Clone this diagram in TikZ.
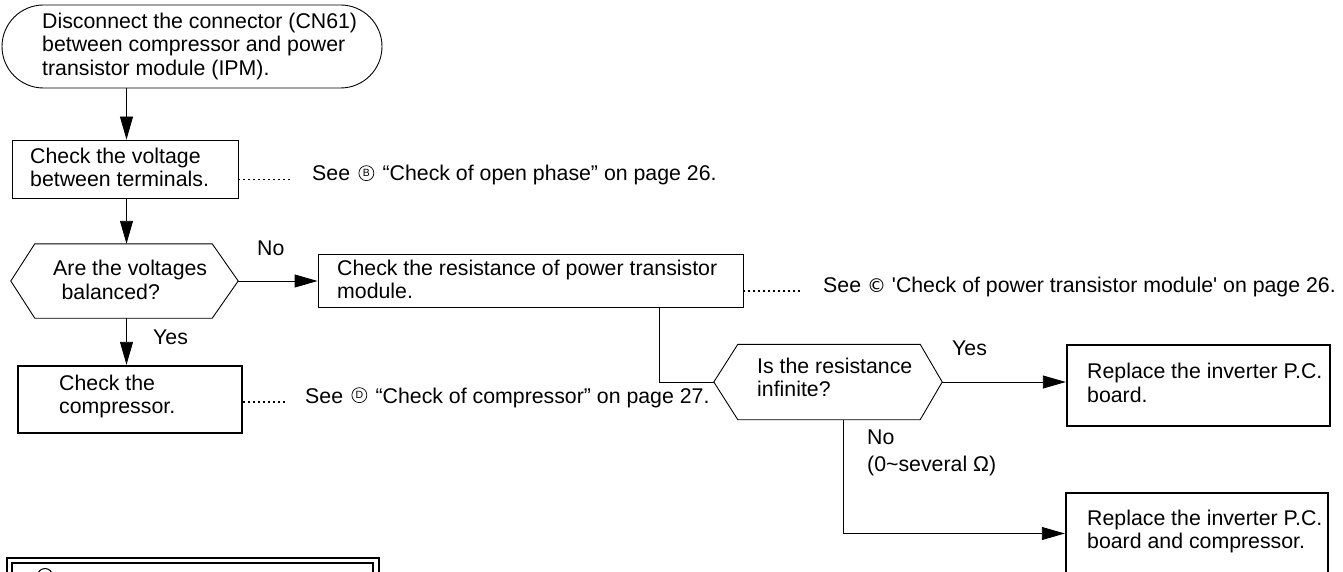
\documentclass[tikz,border=0pt]{standalone}
\usepackage{fontspec}
\usetikzlibrary{arrows.meta,calc,shapes.misc}
\newfontfamily\lsans{Liberation Sans}
\newfontfamily\dejavu{DejaVu Sans}
\newcommand{\circledletter}[1]{\hspace{2.5pt}\tikz[baseline=(cc.south)]\node[circle,draw,line width=0.7pt,inner sep=0pt,minimum size=15pt,font=\lsans\fontsize{10.5}{10.5}\selectfont] (cc) {#1};\hspace{2.5pt}}
\newcommand{\copysign}{{\dejavu\fontsize{19}{19}\selectfont ©}}
\begin{document}
\begin{tikzpicture}[x=1pt,y=-1pt,
  thinline/.style={line width=0.9pt},
  thickbox/.style={rectangle, inner sep=0, draw, line width=2.4pt},
  thinbox/.style={rectangle, inner sep=0, draw, line width=0.9pt},
  hexbase/.style={rectangle, inner sep=0},
  conn/.style={line width=0.9pt},
  arr/.style={conn, -{Triangle[length=23pt,width=13pt]}},
  leader/.style={line width=1.4pt, dash pattern=on 1.4pt off 3.6pt},
  txt/.style={font=\lsans\fontsize{21.3}{23.5}\selectfont, inner sep=0, anchor=base west, align=left}]
\useasboundingbox (0,0) rectangle (1343,572);
\clip (0,0) rectangle (1343,572);

% shapes
\node[rounded rectangle, draw, line width=0.9pt, minimum width=380, minimum height=83, inner sep=0] (start) at (192,46.5) {};
\node[thinbox, minimum width=226, minimum height=58] (b1) at (125,169) {};
\node[hexbase, minimum width=227, minimum height=74] (d1) at (124.5,281) {};
\node[thinbox, minimum width=425, minimum height=53] (b2) at (530.5,280.5) {};
\node[thickbox, minimum width=224, minimum height=67] (b5) at (130,399.5) {};
\node[hexbase, minimum width=228, minimum height=75] (d2) at (828,382) {};
\node[thickbox, minimum width=263, minimum height=81] (b3) at (1198.5,385.5) {};
\node[thickbox, minimum width=262, minimum height=81] (b4) at (1197,533.5) {};

\draw[thinline] (d1.west) -- ([xshift=24pt]d1.north west) -- ([xshift=-26pt]d1.north east) -- (d1.east) -- ([xshift=-26pt]d1.south east) -- ([xshift=24pt]d1.south west) -- cycle;
\draw[thinline] (d2.west) -- ([xshift=24pt]d2.north west) -- ([xshift=-22pt]d2.north east) -- (d2.east) -- ([xshift=-22pt]d2.south east) -- ([xshift=24pt]d2.south west) -- cycle;

% texts (base = baseline of the last line)
\node[txt] (tstart) at (42,75.5) {Disconnect the connector (CN61)\\between compressor and power\\transistor module (IPM).};
\node[txt] (tb1) at (30,186.5) {Check the voltage\\between terminals.};
\node[txt] (seeB) at (312,181) {See \circledletter{B} “Check of open phase” on page 26.};
\node[txt] (td1) at (53,299) {Are the voltages\\\hspace*{8.4pt}balanced?};
\node[txt] (no1) at (257,255) {No};
\node[txt] (tb2) at (337,298.5) {Check the resistance of power transistor\\module.};
\node[txt] (seeC) at (823,292) {See \copysign{} 'Check of power transistor module' on page 26.};
\node[txt] (yes1) at (153,344) {Yes};
\node[txt] (tb5) at (59,413.5) {Check the\\compressor.};
\node[txt] (seeD) at (305,403) {See \circledletter{D} “Check of compressor” on page 27.};
\node[txt] (td2) at (757,396.5) {Is the resistance\\infinite?};
\node[txt] (yes2) at (952,355) {Yes};
\node[txt] (tb3) at (1087,402) {Replace the inverter P.C.\\board.};
\node[txt] (no2) at (867,471.5) {No\\[4pt](0\textasciitilde several Ω)};
\node[txt] (tb4) at (1087,548.5) {Replace the inverter P.C.\\board and compressor.};

% connectors
\coordinate (ax) at (126.5,0);
\coordinate (jx) at (659,0);
\coordinate (kx) at (843,0);
\draw[arr] (ax |- start.south) -- (ax |- b1.north);
\draw[arr] (ax |- b1.south) -- (ax |- d1.north);
\draw[arr] (d1.east) -- (d1.east -| b2.west);
\draw[arr] (ax |- d1.south) -- (ax |- b5.north);
\draw[conn] (jx |- b2.south) |- (d2.west);
\draw[arr] (d2.east) -- (d2.east -| b3.west);
\draw[arr] (kx |- d2.south) |- (b4.west);

% leaders
\draw[leader] ($(b1.east |- seeB.base)+(0,-1.2)$) -- ($(seeB.base west)+(-19,-1.2)$);
\draw[leader] ($(b2.east |- seeC.base)+(0,-1.2)$) -- ($(seeC.base west)+(-21,-1.2)$);
\draw[leader] ($(b5.east |- seeD.base)+(0,-1.2)$) -- ($(seeD.base west)+(-18,-1.2)$);

% partial note frame at bottom-left
\draw[line width=1.6pt] (7,558) rectangle (379,640);
\draw[line width=1.4pt] (12,563) rectangle (373,640);
\draw[line width=1pt] (45,576) circle[radius=7.5];
\end{tikzpicture}
\end{document}
